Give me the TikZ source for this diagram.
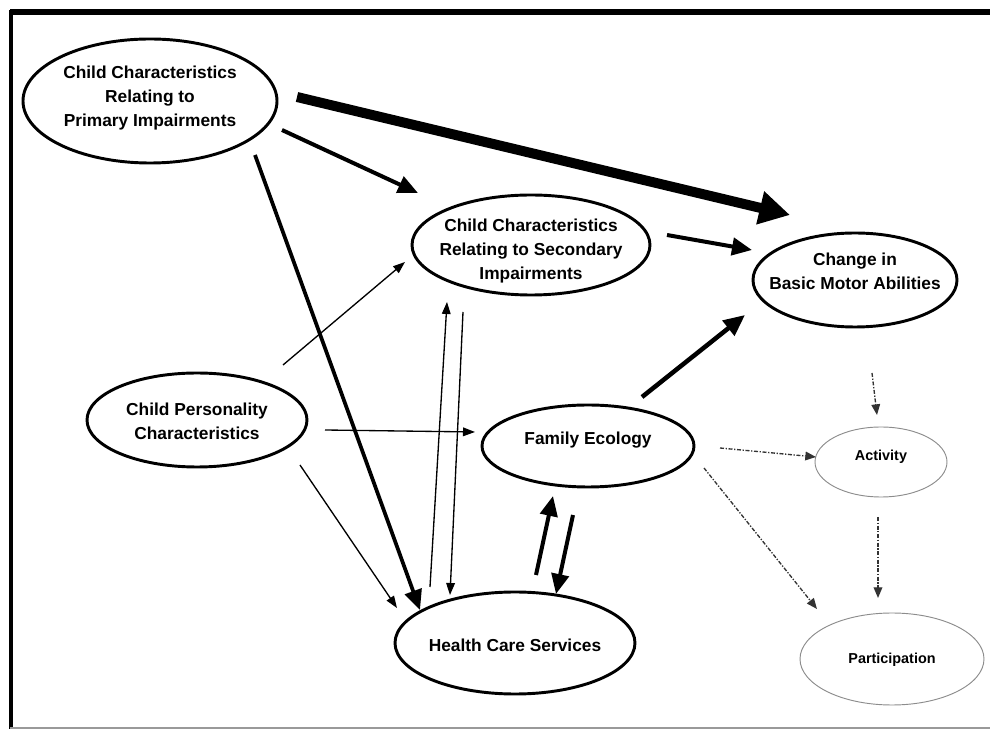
\documentclass[tikz,border=0pt]{standalone}
\usepackage{fontspec}
\setmainfont{Liberation Sans}
\usetikzlibrary{shapes.geometric,arrows.meta,calc}
\tikzset{
  ell/.style={draw, ellipse, line width=2.2pt, inner sep=0pt, fill=white},
  ellg/.style={draw=black!45, ellipse, line width=0.7pt, inner sep=0pt, fill=white},
  txt/.style={align=center, inner sep=0pt, font=\fontsize{13}{18}\selectfont\bfseries},
  txts/.style={align=center, inner sep=0pt, font=\fontsize{10.8}{14}\selectfont\bfseries},
  hugearrow/.style={line width=7.5pt, -{Triangle[length=23pt,width=24pt]}},
  medarrow/.style={line width=3pt, -{Triangle[length=15pt,width=13pt]}},
  thinarrow/.style={line width=1pt, -{Triangle[length=9pt,width=6.5pt]}},
  dasharrow/.style={line width=1pt, black!80, dash pattern=on 3pt off 1.2pt on 1pt off 1.2pt, -{Triangle[length=8pt,width=6.5pt]}}
}
\begin{document}
\begin{tikzpicture}[x=0.75pt,y=-0.75pt]
\useasboundingbox (0,0) rectangle (990,730);
% frame
\draw[line width=3.8pt] (10,12) -- (990,12);
\draw[line width=3pt] (11,10) -- (11,729);
\draw[line width=1.5pt, black!40] (10,728) -- (990,728);
% ellipses
\node[ell, minimum width=0.75*254, minimum height=0.75*124] (prim) at (150,101) {};
\node[txt] (primT) at (150,98) {Child Characteristics\\Relating to\\Primary Impairments};
\node[ell, minimum width=0.75*238, minimum height=0.75*100] (sec) at (531,245) {};
\node[txt] (secT) at (531,251) {Child Characteristics\\Relating to Secondary\\Impairments};
\node[ell, minimum width=0.75*204, minimum height=0.75*94] (chg) at (855,280) {};
\node[txt] (chgT) at (855,271) {Change in\\Basic Motor Abilities};
\node[ell, minimum width=0.75*220, minimum height=0.75*94] (pers) at (197,420) {};
\node[txt] (persT) at (197,421) {Child Personality\\Characteristics};
\node[ell, minimum width=0.75*212, minimum height=0.75*82] (fam) at (588,446) {};
\node[txt] (famT) at (588,440) {Family Ecology};
\node[ell, minimum width=0.75*240, minimum height=0.75*102] (hcs) at (515,643) {};
\node[txt] (hcsT) at (515,645) {Health Care Services};
\node[ellg, minimum width=0.75*132, minimum height=0.75*70] (act) at (881,462) {};
\node[txts] (actT) at (881,457) {Activity};
\node[ellg, minimum width=0.75*184, minimum height=0.75*92] (part) at (892,659) {};
\node[txts] (partT) at (892,660) {Participation};
% connectors
\draw[hugearrow] ($(prim)+(147,-4)$) -- ($(chg)+(-65,-65)$);
\draw[medarrow] ($(prim)+(132,29)$) -- ($(sec)+(-113,-52)$);
\draw[medarrow, line width=2.8pt] ($(prim)+(105,54)$) -- ($(hcs)+(-95,-33)$);
\draw[medarrow] ($(sec)+(136,-10)$) -- ($(chg)+(-103,-30)$);
\draw[thinarrow] ($(pers)+(86,-55)$) -- ($(sec)+(-126,17)$);
\draw[thinarrow] ($(pers)+(128,10)$) -- ($(fam)+(-113,-14)$);
\draw[thinarrow] ($(pers)+(103,45)$) -- ($(hcs)+(-118,-35)$);
\draw[thinarrow] ($(hcs)+(-85,-56)$) -- ($(sec)+(-84,57)$);
\draw[thinarrow] ($(sec)+(-68,67)$) -- ($(hcs)+(-65,-48)$);
\draw[medarrow] ($(fam)+(-15,69)$) -- ($(hcs)+(41,-49)$);
\draw[medarrow] ($(hcs)+(21,-68)$) -- ($(fam)+(-35,50)$);
\draw[medarrow, line width=3.4pt, -{Triangle[length=16pt,width=14pt]}] ($(fam)+(54,-49)$) -- ($(chg)+(-110,35)$);
\draw[dasharrow] ($(chg)+(17,93)$) -- ($(act)+(-4,-47)$);
\draw[dasharrow] ($(fam)+(132,2)$) -- ($(act)+(-65,-5)$);
\draw[dasharrow] ($(fam)+(116,22)$) -- ($(part)+(-75,-50)$);
\draw[dasharrow] ($(act)+(-3,55)$) -- ($(part)+(-14,-61)$);
\end{tikzpicture}
\end{document}
